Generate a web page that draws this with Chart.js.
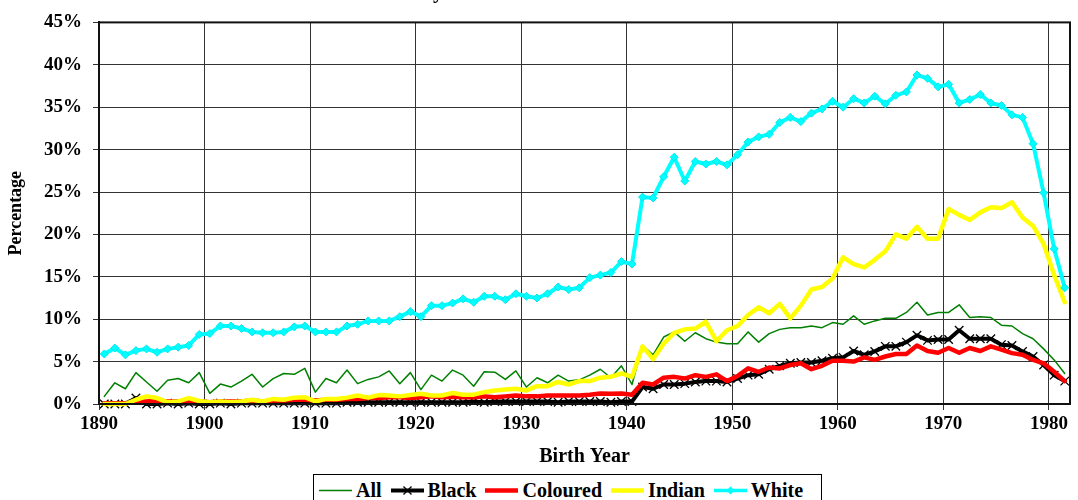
<!DOCTYPE html>
<html>
<head>
<meta charset="utf-8">
<script src="https://cdn.jsdelivr.net/npm/chart.js@4.4.1/dist/chart.umd.min.js"></script>
<style>
  html, body { margin: 0; padding: 0; background: #fff; overflow: hidden; }
  #wrap { position: relative; width: 1078px; height: 500px; }
  #legenda {
    position: absolute; left: 313px; top: 474px; width: 509px; height: 32px;
    box-sizing: border-box; border: 1px solid #000; background: #fff;
    display: flex; align-items: center; padding: 0 0 0 5px;
    font: bold 20px "Liberation Serif", "Times New Roman", serif; color: #000;
  }
  .item { display: flex; align-items: center; margin-right: 9px; white-space: nowrap; }
  .item svg { margin-right: 4px; }
</style>
</head>
<body>
<div id="wrap">
  <canvas id="grafico" width="1078" height="500"></canvas>
  <div id="legenda"></div>
</div>
<script>
// anos de nascimento (categorias)
const anos = [
  1890, 1891, 1892, 1893, 1894, 1895, 1896, 1897, 1898, 1899,
  1900, 1901, 1902, 1903, 1904, 1905, 1906, 1907, 1908, 1909,
  1910, 1911, 1912, 1913, 1914, 1915, 1916, 1917, 1918, 1919,
  1920, 1921, 1922, 1923, 1924, 1925, 1926, 1927, 1928, 1929,
  1930, 1931, 1932, 1933, 1934, 1935, 1936, 1937, 1938, 1939,
  1940, 1941, 1942, 1943, 1944, 1945, 1946, 1947, 1948, 1949,
  1950, 1951, 1952, 1953, 1954, 1955, 1956, 1957, 1958, 1959,
  1960, 1961, 1962, 1963, 1964, 1965, 1966, 1967, 1968, 1969,
  1970, 1971, 1972, 1973, 1974, 1975, 1976, 1977, 1978, 1979,
  1980, 1981
];

const serieAll = [
  0.9, 2.5, 1.8, 3.7, 2.6, 1.5, 2.8, 3.0, 2.5, 3.7,
  1.25, 2.35, 2.0, 2.7, 3.5, 2.0, 3.0, 3.6, 3.5, 4.2,
  1.4, 3.0, 2.5, 4.0, 2.4, 2.9, 3.2, 3.9, 2.4, 3.7,
  1.7, 3.4, 2.7, 4.0, 3.4, 2.1, 3.8, 3.75, 2.9, 3.9,
  2.0, 3.1, 2.5, 3.4, 2.7, 2.85, 3.4, 4.1, 3.1, 4.5,
  2.3, 6.9, 5.8, 7.9, 8.5, 7.4, 8.4, 7.7, 7.3, 7.1,
  7.1, 8.5, 7.3, 8.3, 8.8, 9.0, 9.0, 9.2, 9.0, 9.6,
  9.4, 10.4, 9.4, 9.8, 10.1, 10.1, 10.8, 12.0, 10.5, 10.8,
  10.8, 11.7, 10.2, 10.3, 10.2, 9.3, 9.2, 8.3, 7.7, 6.5,
  5.2, 3.6
];

const serieBlack = [
  0.0, 0.0, 0.0, 0.7, 0.0, 0.0, 0.1, 0.0, 0.1, 0.0,
  0.0, 0.1, 0.0, 0.1, 0.1, 0.1, 0.1, 0.1, 0.1, 0.1,
  0.1, 0.1, 0.1, 0.2, 0.2, 0.2, 0.2, 0.2, 0.2, 0.2,
  0.2, 0.2, 0.2, 0.2, 0.2, 0.3, 0.2, 0.3, 0.3, 0.3,
  0.3, 0.3, 0.3, 0.2, 0.3, 0.3, 0.3, 0.3, 0.2, 0.3,
  0.3, 2.0, 1.8, 2.3, 2.3, 2.4, 2.6, 2.7, 2.7, 2.6,
  3.0, 3.4, 3.5, 4.1, 4.5, 4.8, 4.9, 4.9, 5.1, 5.4,
  5.5, 6.25, 5.8, 6.2, 6.8, 6.8, 7.3, 8.1, 7.5, 7.6,
  7.6, 8.7, 7.7, 7.7, 7.7, 7.0, 6.9, 6.2, 5.6, 4.6,
  3.4, 2.7
];

const serieColoured = [
  0.1, 0.1, 0.1, 0.3, 0.3, 0.4, 0.3, 0.3, 0.4, 0.3,
  0.2, 0.3, 0.3, 0.3, 0.4, 0.3, 0.4, 0.4, 0.5, 0.5,
  0.4, 0.5, 0.5, 0.6, 0.6, 0.7, 0.7, 0.8, 0.8, 0.7,
  0.8, 0.9, 0.8, 0.85, 0.8, 0.8, 0.9, 0.8, 0.9, 1.0,
  0.9, 0.9, 1.0, 1.0, 1.0, 1.0, 1.1, 1.25, 1.2, 1.25,
  1.1, 2.5, 2.3, 3.1, 3.2, 3.0, 3.4, 3.2, 3.5, 2.7,
  3.3, 4.2, 3.8, 4.3, 4.2, 4.6, 4.8, 4.1, 4.5, 5.1,
  5.1, 5.0, 5.5, 5.2, 5.6, 5.9, 5.9, 6.9, 6.25, 6.05,
  6.6, 6.05, 6.6, 6.25, 6.8, 6.4, 6.0, 5.8, 5.2, 4.8,
  3.8, 2.7
];

const serieIndian = [
  0.0, 0.0, 0.0, 0.5, 0.9, 0.7, 0.2, 0.3, 0.7, 0.35,
  0.2, 0.3, 0.2, 0.3, 0.5, 0.3, 0.6, 0.5, 0.75, 0.8,
  0.3, 0.6, 0.6, 0.75, 1.0, 0.75, 1.05, 1.0, 0.9, 1.05,
  1.2, 1.0, 1.0, 1.3, 1.1, 1.1, 1.4, 1.6, 1.7, 1.8,
  1.6, 2.1, 2.1, 2.6, 2.3, 2.7, 2.7, 3.1, 3.2, 3.6,
  3.2, 6.8, 5.3, 7.1, 8.4, 8.8, 8.9, 9.7, 7.4, 8.7,
  9.2, 10.5, 11.4, 10.7, 11.8, 10.1, 11.6, 13.5, 13.8, 14.8,
  17.3, 16.5, 16.1, 17.0, 18.0, 20.0, 19.5, 20.9, 19.5, 19.5,
  23.0, 22.3, 21.7, 22.6, 23.2, 23.1, 23.8, 22.0, 21.0, 18.9,
  15.2, 12.0
];

const serieWhite = [
  5.9, 6.6, 5.8, 6.3, 6.5, 6.1, 6.5, 6.7, 6.9, 8.2,
  8.3, 9.2, 9.2, 8.9, 8.5, 8.4, 8.4, 8.5, 9.1, 9.2,
  8.5, 8.5, 8.5, 9.2, 9.4, 9.8, 9.8, 9.8, 10.3, 10.9,
  10.3, 11.6, 11.6, 11.9, 12.4, 12.0, 12.7, 12.7, 12.3, 13.0,
  12.7, 12.5, 13.0, 13.8, 13.5, 13.7, 14.9, 15.2, 15.5, 16.8,
  16.5, 24.4, 24.3, 26.8, 29.1, 26.3, 28.6, 28.3, 28.6, 28.2,
  29.4, 30.9, 31.5, 31.8, 33.2, 33.8, 33.3, 34.3, 34.8, 35.7,
  35.0, 36.0, 35.5, 36.3, 35.4, 36.4, 36.8, 38.8, 38.4, 37.4,
  37.7, 35.5, 35.9, 36.5, 35.5, 35.2, 34.1, 33.8, 30.7, 24.9,
  18.3, 13.7
];

const nomesSeries = ["All", "Black", "Coloured", "Indian", "White"];
const ticksAnos = [1890, 1900, 1910, 1920, 1930, 1940, 1950, 1960, 1970, 1980];
const ticksPercent = [0, 5, 10, 15, 20, 25, 30, 35, 40, 45];
const tituloTexto = "by Birth Cohort and Race";

const fonteSerif = '"Liberation Serif", "Times New Roman", serif';

// cada ponto fica no meio do ano (eixo de categorias do Excel)
function pontos(valores) {
  return anos.map((ano, i) => ({ x: ano + 0.5, y: valores[i] }));
}

// moldura da area do grafico + titulo cortado no topo
const molduraPlugin = {
  id: "moldura",
  afterDraw(chart) {
    const { ctx, chartArea } = chart;
    ctx.save();
    ctx.strokeStyle = "#111";
    ctx.lineWidth = 2;
    ctx.strokeRect(chartArea.left, chartArea.top, chartArea.right - chartArea.left, chartArea.bottom - chartArea.top);
    ctx.fillStyle = "#000";
    ctx.font = "bold 21px " + fonteSerif;
    ctx.textAlign = "center";
    ctx.textBaseline = "alphabetic";
    ctx.fillText(tituloTexto, 538, -2);
    ctx.restore();
  }
};

const ctx = document.getElementById("grafico").getContext("2d");

new Chart(ctx, {
  type: "line",
  data: {
    datasets: [
      {
        label: nomesSeries[0],
        data: pontos(serieAll),
        borderColor: "#008000",
        borderWidth: 1.5,
        pointRadius: 0,
        order: 5
      },
      {
        label: nomesSeries[1],
        data: pontos(serieBlack),
        borderColor: "#000000",
        borderWidth: 4,
        pointStyle: "crossRot",
        pointRadius: 6,
        pointBorderWidth: 1.3,
        pointBorderColor: "#000000",
        order: 4
      },
      {
        label: nomesSeries[2],
        data: pontos(serieColoured),
        borderColor: "#ff0000",
        borderWidth: 4.5,
        pointRadius: 0,
        order: 3
      },
      {
        label: nomesSeries[3],
        data: pontos(serieIndian),
        borderColor: "#ffff00",
        borderWidth: 4.5,
        pointRadius: 0,
        order: 2
      },
      {
        label: nomesSeries[4],
        data: pontos(serieWhite),
        borderColor: "#00ffff",
        borderWidth: 4,
        pointStyle: "rectRot",
        pointRadius: 4,
        pointBackgroundColor: "#00ffff",
        pointBorderColor: "#00e5f0",
        pointBorderWidth: 1,
        order: 1
      }
    ]
  },
  options: {
    responsive: false,
    animation: false,
    events: [],
    elements: {
      line: { tension: 0, borderJoinStyle: "round", borderCapStyle: "round" }
    },
    datasets: { line: { clip: 8 } },
    layout: { padding: { top: 14, right: 8, bottom: 29, left: 0 } },
    scales: {
      x: {
        type: "linear",
        min: 1890,
        max: 1982,
        afterFit: (scale) => { scale.height = 67; },
        afterBuildTicks: (scale) => { scale.ticks = ticksAnos.map((v) => ({ value: v })); },
        ticks: {
          color: "#000",
          padding: 3,
          maxRotation: 0,
          font: { family: fonteSerif, size: 19, weight: "bold" },
          callback: (v) => String(v)
        },
        grid: { color: "#333", lineWidth: 1, tickLength: 6, tickColor: "#333" },
        border: { color: "#000", width: 2 },
        title: {
          display: true,
          text: "Birth Year",
          color: "#000",
          padding: { top: 0, bottom: 2 },
          font: { family: fonteSerif, size: 20, weight: "bold" }
        }
      },
      y: {
        min: 0,
        max: 45,
        afterFit: (scale) => { scale.width = 99; },
        afterBuildTicks: (scale) => { scale.ticks = ticksPercent.map((v) => ({ value: v })); },
        ticks: {
          color: "#000",
          padding: 11,
          font: { family: fonteSerif, size: 19, weight: "bold" },
          callback: (v) => v + "%"
        },
        grid: { color: "#333", lineWidth: 1, tickLength: 6, tickColor: "#333" },
        border: { color: "#000", width: 2 },
        title: {
          display: true,
          text: "Percentage",
          color: "#000",
          padding: { top: 6, bottom: 0 },
          font: { family: fonteSerif, size: 18, weight: "bold" }
        }
      }
    },
    plugins: {
      legend: { display: false },
      tooltip: { enabled: false },
      title: { display: false }
    }
  },
  plugins: [molduraPlugin]
});

// legenda em HTML montada a partir dos nomes das series
const estilosLegenda = [
  { cor: "#008000", largura: 1.5, marcador: null },
  { cor: "#000000", largura: 4, marcador: "x" },
  { cor: "#ff0000", largura: 4.5, marcador: null },
  { cor: "#ffff00", largura: 4.5, marcador: null },
  { cor: "#00ffff", largura: 3.5, marcador: "diamante" }
];

const legenda = document.getElementById("legenda");
nomesSeries.forEach((nome, i) => {
  const est = estilosLegenda[i];
  let marca = "";
  if (est.marcador === "x") {
    marca = '<path d="M12.5 2.5 L20.5 10.5 M20.5 2.5 L12.5 10.5" stroke="#000" stroke-width="1.3"/>';
  } else if (est.marcador === "diamante") {
    marca = '<path d="M16.5 2.5 L20.5 6.5 L16.5 10.5 L12.5 6.5 Z" fill="#00ffff"/>';
  }
  const item = document.createElement("span");
  item.className = "item";
  item.innerHTML = `
    <svg width="33" height="13" viewBox="0 0 33 13">
      <line x1="0" y1="6.5" x2="33" y2="6.5" stroke="${est.cor}" stroke-width="${est.largura}"/>
      ${marca}
    </svg>${nome}`;
  legenda.appendChild(item);
});
</script>
</body>
</html>
